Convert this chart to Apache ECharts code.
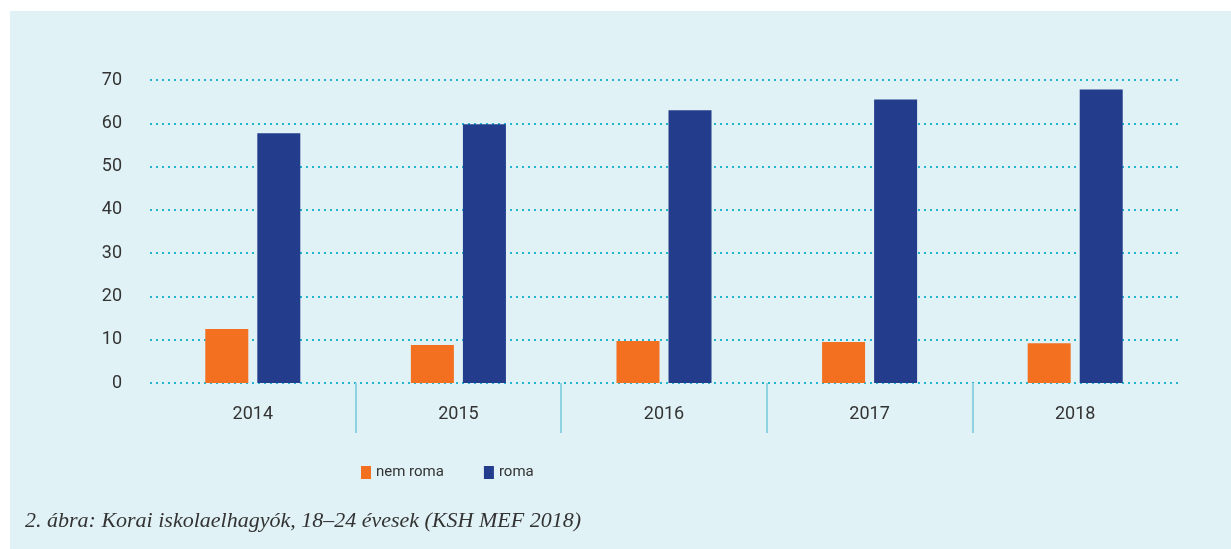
<!DOCTYPE html>
<html>
<head>
<meta charset="utf-8">
<title>Korai iskolaelhagyók</title>
<script src="https://cdn.jsdelivr.net/npm/echarts@6/dist/echarts.min.js"></script>
<style>
	html, body {
		margin: 0;
		padding: 0;
		background: #fff;
	}
	#chart {
		position: absolute;
		left: 10px;
		top: 11px;
		width: 1221px;
		height: 538px;
		background: #e0f2f6;
	}
</style>
</head>
<body>
<div id="chart"></div>
<script>
	// adatok
	var years = ['2014', '2015', '2016', '2017', '2018']
	var nemRoma = [12.5, 8.8, 9.7, 9.5, 9.2]
	var roma = [57.7, 59.8, 63.0, 65.5, 67.8]
	var caption = '2. ábra: Korai iskolaelhagyók, 18–24 évesek (KSH MEF 2018)'

	var myChart = echarts.init(document.getElementById('chart'))
	var option = {
		animation: false,
		textStyle: {
			fontFamily: 'Roboto'
		},
		title: {
			text: caption,
			left: 10,
			top: 494,
			textStyle: {
				fontFamily: 'Liberation Serif',
				fontStyle: 'italic',
				fontWeight: 'normal',
				fontSize: 22,
				color: '#333'
			}
		},
		legend: {
			left: 346,
			top: 449,
			icon: 'rect',
			itemWidth: 10,
			itemHeight: 13,
			itemGap: 40,
			textStyle: {
				color: '#333',
				fontSize: 15,
				padding: [0, 0, 0, 0]
			},
			data: ['nem roma', 'roma']
		},
		grid: {
			left: 140,
			right: 53,
			top: 69,
			bottom: 166
		},
		xAxis: [{
			type: 'category',
			data: years,
			axisLine: { show: false },
			axisTick: { show: false },
			axisLabel: {
				color: '#333',
				fontSize: 18,
				margin: 22
			}
		}, {
			// elválasztó vonalak az évek között
			type: 'value',
			min: 0,
			max: 5,
			position: 'bottom',
			axisLine: { show: false },
			axisLabel: { show: false },
			splitLine: { show: false },
			axisTick: {
				show: true,
				customValues: [1, 2, 3, 4],
				length: 50,
				inside: false,
				lineStyle: {
					color: '#8fd3e3',
					width: 2
				}
			}
		}],
		yAxis: {
			type: 'value',
			min: 0,
			max: 70,
			interval: 10,
			axisLine: { show: false },
			axisTick: { show: false },
			axisLabel: {
				color: '#333',
				fontSize: 18,
				margin: 28
			},
			splitLine: {
				lineStyle: {
					color: '#22b5d0',
					width: 2,
					type: [2, 4]
				}
			}
		},
		series: [{
			name: 'nem roma',
			type: 'bar',
			data: nemRoma,
			barWidth: 43,
			barGap: '21%',
			itemStyle: { color: '#f37021' }
		}, {
			name: 'roma',
			type: 'bar',
			data: roma,
			barWidth: 43,
			itemStyle: { color: '#233c8b' }
		}]
	}
	myChart.setOption(option)
</script>
</body>
</html>
